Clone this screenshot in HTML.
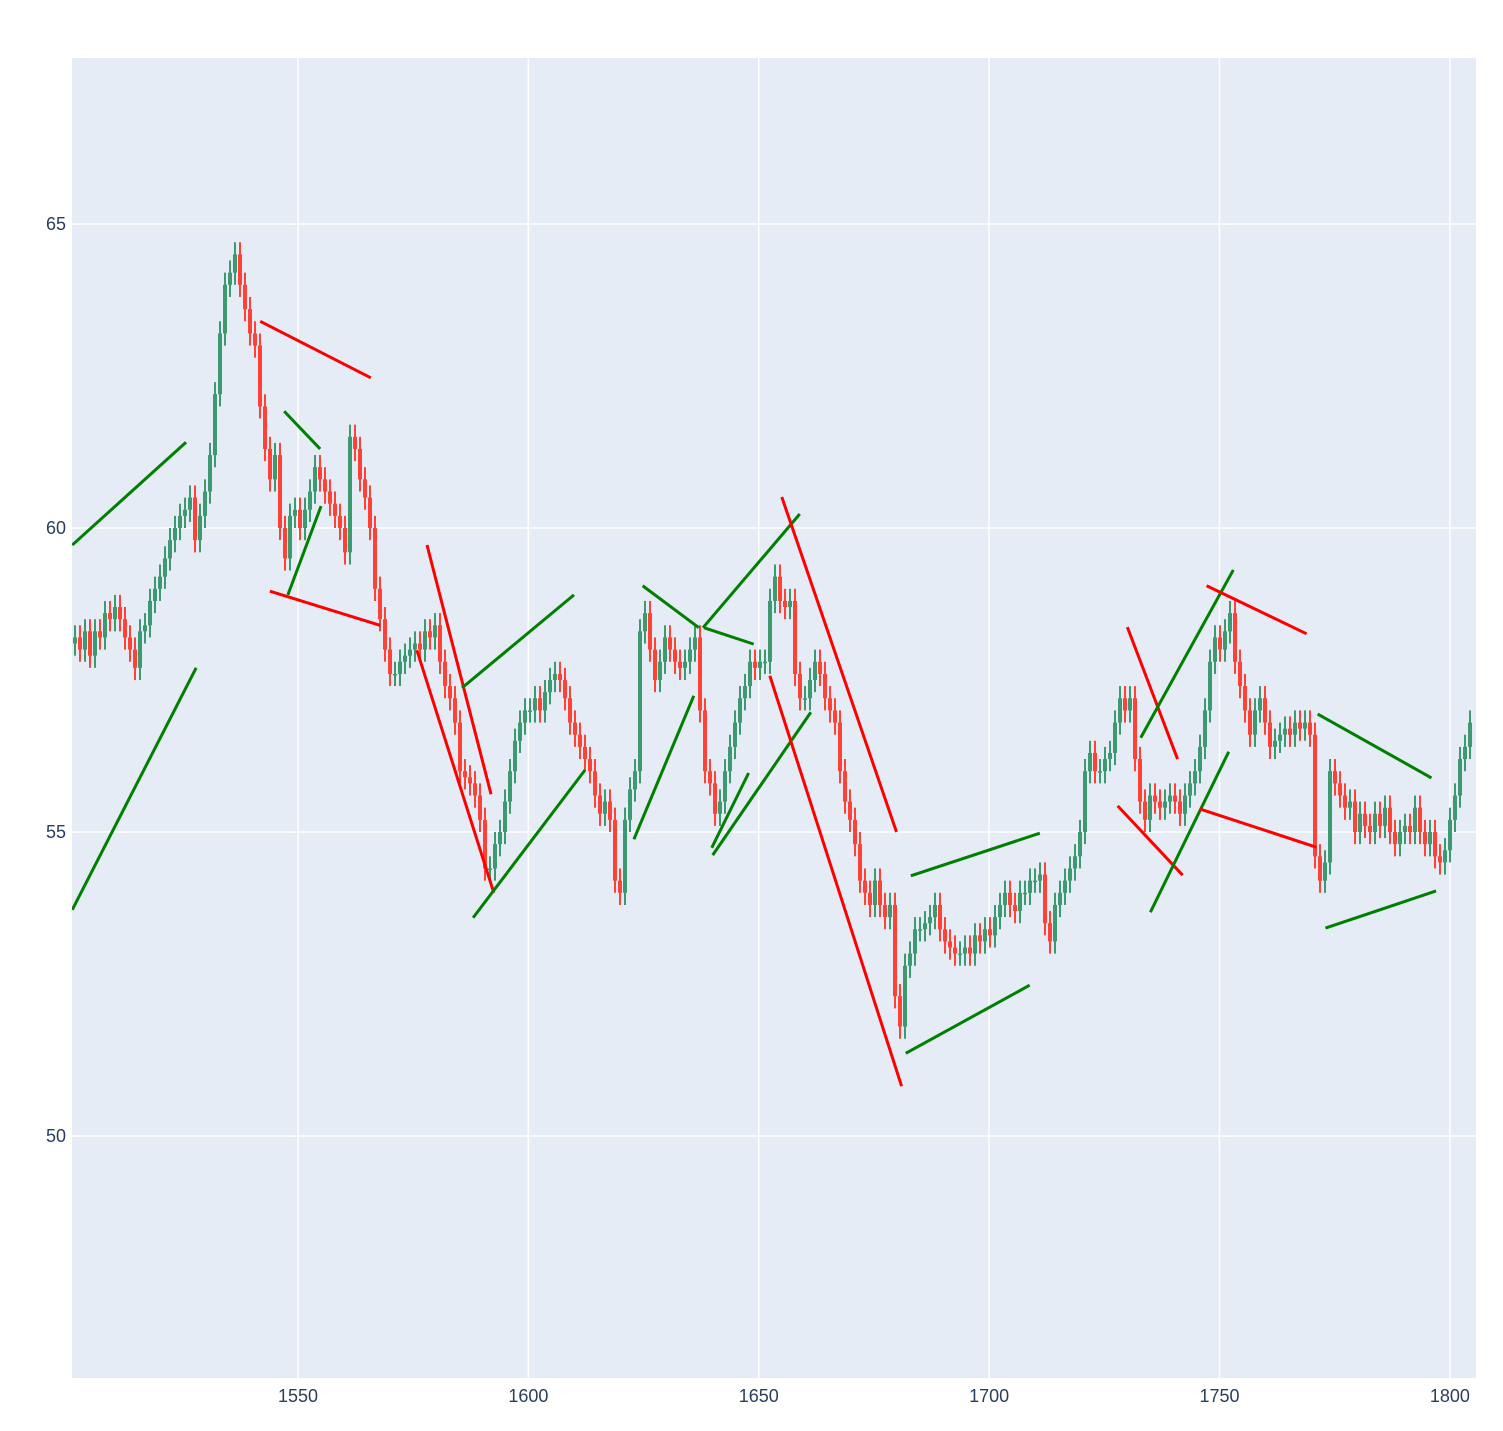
<!DOCTYPE html>
<html><head><meta charset="utf-8">
<style>
body{margin:0;background:#fff;}
svg text{font-family:"Liberation Sans",sans-serif;font-size:18px;fill:#2a3f5f;}
</style></head>
<body>
<svg id="chart" width="1503" height="1426" xmlns="http://www.w3.org/2000/svg">
<rect x="72" y="58" width="1404" height="1320" fill="#E5ECF6"/>
<g id="grid"></g>
<g id="ticks"></g>
<defs><clipPath id="clip"><rect x="72" y="58" width="1404" height="1320"/></clipPath></defs>
<g id="candles" clip-path="url(#clip)"></g>
<g id="lines" clip-path="url(#clip)"></g>
</svg>
<script>
const closes=[58.2,58.0,58.3,57.9,58.3,58.2,58.6,58.5,58.7,58.5,58.2,58.0,57.7,58.3,58.4,58.8,59.0,59.2,59.5,59.8,60.0,60.2,60.3,60.5,59.8,60.2,
60.6,61.2,62.2,63.2,64.0,64.2,64.5,64.0,63.6,63.2,63.0,62.0,61.3,60.8,61.2,60.0,59.5,60.2,60.3,60.0,60.3,60.6,61.0,60.8,60.6,60.4,60.2,60.0,59.6,61.5,61.3,60.8,60.5,60.0,59.0,58.5,58.0,57.6,57.6,57.8,57.9,58.0,58.1,58.0,58.3,58.2,58.4,57.8,57.4,57.2,56.8,56.0,55.9,55.8,55.6,55.2,54.4,54.4,54.8,55.0,55.5,56.0,56.5,56.8,57.0,57.0,57.2,57.0,57.3,57.5,57.6,57.5,57.2,56.8,56.6,56.4,56.2,56.0,55.6,55.3,55.5,55.2,54.2,54.0,55.2,55.7,56.0,58.3,58.6,58.0,57.5,57.8,58.2,58.0,57.8,57.7,57.8,58.0,58.2,57.0,56.0,55.8,55.3,55.5,56.0,56.4,56.8,57.2,57.4,57.8,57.7,57.8,57.8,58.8,59.2,58.8,58.7,58.8,57.6,57.2,57.2,57.5,57.8,57.6,57.2,57.0,56.8,56.0,55.5,55.2,54.8,54.2,54.0,53.8,54.2,53.8,53.6,53.8,52.3,51.8,52.8,53.0,53.4,53.4,53.5,53.6,53.8,53.4,53.2,53.1,53.0,53.0,53.1,53.0,53.3,53.2,53.4,53.3,53.6,53.8,54.0,53.8,53.7,54.0,54.0,54.2,54.2,54.3,53.5,53.2,53.8,54.0,54.2,54.4,54.6,55.0,56.0,56.3,56.0,56.0,56.2,56.3,56.8,57.2,57.0,57.2,56.2,55.5,55.2,55.6,55.5,55.4,55.5,55.6,55.5,55.3,55.6,55.8,56.0,56.4,57.0,57.8,58.2,58.0,58.3,58.6,57.8,57.4,57.0,56.6,57.0,57.2,56.8,56.4,56.5,56.6,56.7,56.6,56.8,56.7,56.8,56.6,54.6,54.2,54.5,56.0,55.8,55.6,55.4,55.5,55.0,55.3,55.1,55.0,55.3,55.1,55.4,55.0,54.8,55.0,55.1,55.0,55.4,55.0,54.8,55.0,54.6,54.5,54.7,55.2,55.6,56.2,56.4,56.8];
const firstX=1501.6, xStep=1.0852;
const trendStart=[[1501,59.72],[1501,53.72],[1541.8,63.40],[1547,61.92],[1547.8,58.90],[1543.9,58.96],[1578,59.72],[1575.8,57.99],[1585.6,57.37],[1588,53.59],[1624.8,59.05],[1622.9,54.88],[1638.1,58.36],[1637.9,58.36],[1639.8,54.74],[1640,54.62],[1655,60.51],[1652.4,57.57],[1683,54.28],[1681.9,51.36],[1730,58.37],[1727.9,55.43],[1732.9,56.55],[1735,53.68],[1747.2,59.05],[1745.7,55.38],[1771.3,56.94],[1773,53.42]];
const trendEnd=[[1525.7,61.41],[1527.9,57.70],[1565.8,62.47],[1554.8,61.30],[1555,60.36],[1567.8,58.40],[1591.9,55.62],[1592.5,54.0],[1609.9,58.90],[1612.3,56.02],[1637,58.36],[1635.9,57.24],[1648.9,58.09],[1658.9,60.23],[1647.8,55.97],[1661.3,56.97],[1679.9,55.0],[1681,50.82],[1711,54.98],[1708.8,52.48],[1740.9,56.20],[1742,54.29],[1753,59.31],[1752,56.32],[1768.9,58.26],[1771,54.75],[1796,55.89],[1797,54.03]];
const trendColor=['g','g','r','g','g','r','r','r','g','g','g','g','g','g','g','g','r','r','g','g','r','r','g','g','r','r','g','g'];
const xTicks=[1550,1600,1650,1700,1750,1800];
const yTicks=[50,55,60,65];

const NS='http://www.w3.org/2000/svg';
const X=v=>298+(v-1550)*4.6075;
const Y=v=>224+(65-v)*60.8;
function mk(t,a,p){const e=document.createElementNS(NS,t);for(const k in a)e.setAttribute(k,a[k]);p.appendChild(e);return e;}
const grid=document.getElementById('grid'),ticks=document.getElementById('ticks');
xTicks.forEach(t=>{
  const l=mk('line',{x1:X(t),x2:X(t),y1:58,y2:1378,stroke:'#fff','stroke-width':1.5},grid);
  
  
  const tx=mk('text',{x:X(t),y:1402,'text-anchor':'middle'},ticks);tx.textContent=t;
  
  
});
yTicks.forEach(t=>{
  const l=mk('line',{x1:72,x2:1476,y1:Y(t),y2:Y(t),stroke:'#fff','stroke-width':1.5},grid);
  
  
  const tx=mk('text',{x:66,y:Y(t)+6,'text-anchor':'end'},ticks);tx.textContent=t;
  
  
});
const cg=document.getElementById('candles');
closes.forEach((c,i)=>{
  const o=i?closes[i-1]:c-0.1;
  const hi=Math.max(o,c)+0.2, lo=Math.min(o,c)-0.2;
  const col=c>=o?'#3D9970':'#FF4136';
  const x=X(firstX+i*xStep);
  const w=mk('line',{x1:x,x2:x,y1:Y(hi),y2:Y(lo),stroke:col,'stroke-width':2},cg);
  
  
  const top=Y(Math.max(o,c)),bot=Y(Math.min(o,c));
  const b=mk('rect',{x:x-2,y:top,width:4,height:Math.max(1.5,bot-top),fill:col},cg);
  
  
});
const lg=document.getElementById('lines');
trendStart.forEach((s,i)=>{
  const e=trendEnd[i];
  const l=mk('line',{x1:X(s[0]),y1:Y(s[1]),x2:X(e[0]),y2:Y(e[1]),stroke:trendColor[i]==='g'?'#008000':'#FF0000','stroke-width':3},lg);
  
  
});
</script>
</body></html>
